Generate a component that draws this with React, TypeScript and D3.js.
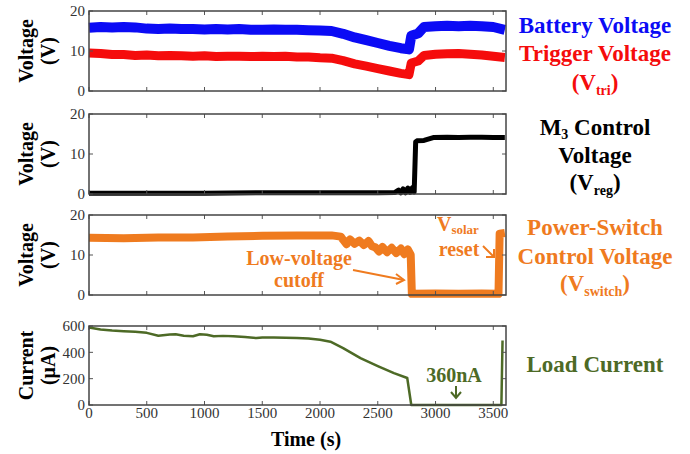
import * as d3 from 'd3';

const FONT = '"Liberation Serif", Tinos, "DejaVu Serif", "Times New Roman", Times, serif';
const X_MAX = 3610;
const xTicks = [0, 500, 1000, 1500, 2000, 2500, 3000, 3500];
const voltTicks = [0, 10, 20];
const currTicks = [0, 200, 400, 600];

// battery + trigger voltage, shared time base (s)
const vTime = [0, 100, 200, 300, 400, 500, 600, 700, 800, 900, 1000, 1100, 1200, 1300, 1400, 1500, 1600, 1700, 1800, 1900, 2000, 2100, 2200, 2300, 2400, 2500, 2600, 2700, 2770, 2790, 2850, 2900, 3000, 3100, 3200, 3300, 3400, 3500, 3600];
const battVolt = [15.8, 16.0, 15.9, 16.0, 15.9, 15.6, 15.5, 15.6, 15.5, 15.5, 15.4, 15.5, 15.4, 15.5, 15.3, 15.3, 15.4, 15.3, 15.3, 15.2, 15.1, 15.0, 14.3, 13.4, 12.7, 12.0, 11.3, 10.7, 10.4, 13.8, 14.4, 16.0, 16.2, 16.3, 16.2, 16.3, 16.2, 16.0, 15.3];
const trigVolt = [9.5, 9.4, 9.1, 9.1, 8.9, 9.0, 8.8, 8.9, 8.8, 8.7, 8.8, 8.6, 8.7, 8.7, 8.6, 8.7, 8.6, 8.7, 8.5, 8.5, 8.3, 8.2, 7.6, 6.8, 6.2, 5.6, 5.0, 4.4, 4.1, 7.0, 7.5, 8.9, 9.2, 9.3, 9.4, 9.2, 9.0, 8.7, 8.4];

// M3 control voltage
const regTime = [0, 500, 1000, 1500, 2000, 2500, 2650, 2680, 2700, 2720, 2740, 2760, 2780, 2800, 2815, 2828, 2840, 2900, 2980, 3100, 3200, 3300, 3400, 3500, 3600];
const regVolt = [0.2, 0.2, 0.2, 0.3, 0.3, 0.3, 0.4, 1.0, 0.3, 1.3, 0.3, 1.5, 0.4, 1.6, 0.5, 13.0, 13.3, 13.4, 14.1, 14.2, 14.1, 14.2, 14.2, 14.1, 14.1];

// power-switch control voltage
const swTime = [0, 300, 600, 900, 1200, 1500, 1800, 2100, 2180, 2200, 2230, 2260, 2300, 2340, 2380, 2420, 2450, 2480, 2510, 2540, 2580, 2620, 2660, 2700, 2730, 2760, 2785, 2795, 3000, 3200, 3400, 3545, 3555, 3600];
const swVolt = [14.3, 14.2, 14.4, 14.4, 14.6, 14.8, 14.9, 14.9, 14.6, 13.8, 12.7, 13.9, 12.8, 13.6, 12.5, 13.5, 12.2, 11.9, 10.9, 12.0, 10.7, 11.8, 10.5, 11.6, 10.2, 11.4, 10.1, 0.3, 0.4, 0.3, 0.4, 0.3, 15.3, 15.5];

// load current (uA)
const curTime = [0, 100, 200, 300, 400, 500, 600, 700, 750, 820, 900, 960, 1020, 1080, 1160, 1250, 1350, 1450, 1500, 1600, 1700, 1800, 1900, 2000, 2090, 2200, 2350, 2500, 2640, 2755, 2790, 3570, 3580];
const curVal = [588, 573, 566, 561, 556, 548, 526, 535, 537, 526, 522, 537, 533, 522, 525, 523, 516, 508, 513, 512, 510, 509, 505, 496, 481, 432, 356, 296, 242, 205, 0, 0, 490];

const x = d3.scaleLinear().domain([0, X_MAX]).range([89, 506]);
const X0 = 89, X1 = 506;

type PanelProps = {
  y: d3.ScaleLinear<number, number>;
  ticks: number[];
  label: string;
  unit: string;
  showX?: boolean;
};

function Panel({ y, ticks, label, unit, showX }: PanelProps) {
  const [yb, yt] = y.range();
  const mid = (yb + yt) / 2;
  const tl = 4;
  return (
    <g>
      {xTicks.map((t) => (
        <g key={'x' + t}>
          <line x1={x(t)} x2={x(t)} y1={yb} y2={yb - tl} stroke="#555" />
          <line x1={x(t)} x2={x(t)} y1={yt} y2={yt + tl} stroke="#555" />
          {showX && (
            <text x={x(t)} y={yb + 13} textAnchor="middle" fontSize={15} fill="#333" style={{ fontFamily: FONT }}>{t}</text>
          )}
        </g>
      ))}
      {ticks.map((v) => (
        <g key={'y' + v}>
          <line x1={X0} x2={X0 + tl} y1={y(v)} y2={y(v)} stroke="#555" />
          <line x1={X1} x2={X1 - tl} y1={y(v)} y2={y(v)} stroke="#555" />
          <text x={85} y={y(v)} dy="0.35em" textAnchor="end" fontSize={15} fill="#333" style={{ fontFamily: FONT }}>{v}</text>
        </g>
      ))}
      <rect x={X0} y={yt} width={X1 - X0} height={yb - yt} fill="none" stroke="#444" strokeWidth={1.5} />
      <text transform={`translate(33,${mid}) rotate(-90)`} textAnchor="middle" fontSize={20} fontWeight="bold" style={{ fontFamily: FONT }}>{label}</text>
      <text transform={`translate(55,${mid}) rotate(-90)`} textAnchor="middle" fontSize={20} fontWeight="bold" style={{ fontFamily: FONT }}>{unit}</text>
    </g>
  );
}

function path(ts: number[], vs: number[], y: d3.ScaleLinear<number, number>) {
  const line = d3.line<number>().x((_, i) => x(ts[i])).y((v) => y(v));
  return line(vs) || '';
}

export default function App() {
  const y1 = d3.scaleLinear().domain([0, 20]).range([91, 11]);
  const y2 = d3.scaleLinear().domain([0, 20]).range([194, 114]);
  const y3 = d3.scaleLinear().domain([0, 20]).range([295, 215]);
  const y4 = d3.scaleLinear().domain([0, 600]).range([405, 326]);

  const blue = '#0b0bf5';
  const red = '#f50c0c';
  const orange = '#ef7b1f';
  const green = '#4d6a26';
  const RX = 595;

  return (
    <svg width={690} height={454} style={{ position: 'absolute', left: 0, top: 0, background: '#fff', fontFamily: FONT }}>
      {/* panel 1 */}
      <path d={path(vTime, battVolt, y1)} fill="none" stroke={blue} strokeWidth={10} strokeLinejoin="round" />
      <path d={path(vTime, trigVolt, y1)} fill="none" stroke={red} strokeWidth={9} strokeLinejoin="round" />
      <Panel y={y1} ticks={voltTicks} label="Voltage" unit="(V)" />

      {/* panel 2 */}
      <path d={path(regTime, regVolt, y2)} fill="none" stroke="#000" strokeWidth={5} strokeLinejoin="round" />
      <Panel y={y2} ticks={voltTicks} label="Voltage" unit="(V)" />

      {/* panel 3 */}
      <path d={path(swTime, swVolt, y3)} fill="none" stroke={orange} strokeWidth={8} strokeLinejoin="round" />
      <Panel y={y3} ticks={voltTicks} label="Voltage" unit="(V)" />

      {/* panel 4 */}
      <path d={path(curTime, curVal, y4)} fill="none" stroke={green} strokeWidth={2.5} strokeLinejoin="round" />
      <Panel y={y4} ticks={currTicks} label="Current" unit="(μA)" showX />

      <text x={306} y={446} textAnchor="middle" fontSize={20} fontWeight="bold">Time (s)</text>

      {/* right labels */}
      <g fontWeight="bold" fontSize={23} textAnchor="middle">
        <text x={RX} y={33} fill={blue}>Battery Voltage</text>
        <text x={RX} y={61} fill={red}>Trigger Voltage</text>
        <text x={RX} y={90} fill={red}>(V<tspan fontSize={14} dy={5}>tri</tspan><tspan dy={-5}>)</tspan></text>

        <text x={RX} y={135} fill="#000">M<tspan fontSize={14} dy={4}>3</tspan><tspan dy={-4}> Control</tspan></text>
        <text x={RX} y={163} fill="#000">Voltage</text>
        <text x={RX} y={190} fill="#000">(V<tspan fontSize={14} dy={5}>reg</tspan><tspan dy={-5}>)</tspan></text>

        <text x={RX} y={235} fill={orange}>Power-Switch</text>
        <text x={RX} y={264} fill={orange}>Control Voltage</text>
        <text x={RX} y={291} fill={orange}>(V<tspan fontSize={14} dy={5}>switch</tspan><tspan dy={-5}>)</tspan></text>

        <text x={RX} y={372} fill={green}>Load Current</text>
      </g>

      {/* annotations */}
      <g fontWeight="bold" fontSize={20} fill={orange}>
        <text x={299} y={265} textAnchor="middle">Low-voltage</text>
        <text x={299} y={287} textAnchor="middle">cutoff</text>
        <text x={437} y={231}>V<tspan fontSize={13} dy={3}>solar</tspan></text>
        <text x={459} y={256} textAnchor="middle">reset</text>
      </g>
      <g stroke={orange} strokeWidth={2} fill="none">
        <path d="M353,270 L404,280" />
        <path d="M396,274 L404,280 L396,284" />
        <path d="M483,246 L494,257" />
        <path d="M494,249 L494,257 L486,257" />
      </g>
      <text x={454} y={382} textAnchor="middle" fontWeight="bold" fontSize={20} fill={green}>360nA</text>
      <g stroke={green} strokeWidth={2} fill="none">
        <path d="M456,386 L456,398" />
        <path d="M451,392 L456,398 L461,392" />
      </g>
    </svg>
  );
}
